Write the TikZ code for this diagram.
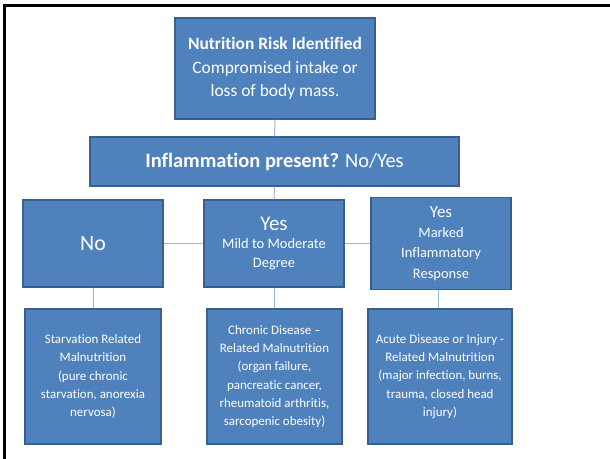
\documentclass[tikz,border=0pt]{standalone}
\usepackage{fontspec}
\setmainfont{Carlito}[Ligatures=NoCommon]
\definecolor{boxfill}{HTML}{4F81BD}
\definecolor{boxline}{HTML}{3A5F8C}
\definecolor{linkline}{HTML}{9BB7DA}
\begin{document}
\begin{tikzpicture}[x=1bp,y=-1bp,
  box/.style={draw=boxline, line width=1.2bp, fill=boxfill, text=white,
    align=center, inner sep=2bp, font=\fontsize{13}{18.3}\selectfont},
  link/.style={draw=linkline, line width=1bp}]
\useasboundingbox (0,0) rectangle (610,459);
% outer frame (open on the right and bottom)
\draw[line width=3bp] (4.5,459) -- (4.5,5.5) -- (610,5.5);

% boxes
\node[box, minimum width=200bp, minimum height=101bp,
  font=\fontsize{17.5}{23.5}\selectfont] (risk) at (275,68.5)
  {\textbf{Nutrition Risk Identified}\\Compromised intake or\\loss of body mass.};
\node[box, minimum width=369bp, minimum height=49bp,
  font=\fontsize{20.5}{24}\selectfont] (infl) at (274.5,161.5)
  {\textbf{Inflammation present?} No/Yes};
\node[box, minimum width=140bp, minimum height=87bp,
  font=\fontsize{22}{26}\selectfont] (no) at (93,243.5) {No};
\node[box, minimum width=140bp, minimum height=87bp,
  font=\fontsize{14.5}{18.5}\selectfont] (mild) at (274,243.5)
  {{\fontsize{21}{24}\selectfont Yes}\\Mild to Moderate\\Degree};
\node[box, minimum width=140bp, minimum height=92bp,
  font=\fontsize{14.5}{20.5}\selectfont] (marked) at (441,243.5)
  {{\fontsize{17}{20}\selectfont Yes}\\Marked\\Inflammatory\\Response};

\node[box, minimum width=136bp, minimum height=135bp] (starv) at (93,376.5)
  {Starvation Related\\Malnutrition\\(pure chronic\\starvation, anorexia\\nervosa)};
\node[box, minimum width=135bp, minimum height=135bp] (chronic) at (274.5,376.5)
  {Chronic Disease --\\Related Malnutrition\\(organ failure,\\pancreatic cancer,\\rheumatoid arthritis,\\sarcopenic obesity)};
\node[box, minimum width=144bp, minimum height=135bp] (acute) at (440,376.5)
  {Acute Disease or Injury -\\Related Malnutrition\\(major infection, burns,\\trauma, closed head\\injury)};

% connectors
\draw[link] (risk.south) -- (infl.north);
\draw[link] (infl.south) -- (mild.north);
\draw[link] (no.east) -- (mild.west);
\draw[link] (mild.east) -- (mild.east -| marked.west);
\draw[link] (no.south) -- (starv.north);
\draw[link] (mild.south) -- (mild.south |- chronic.north);
\draw[link] ([xshift=-3bp]marked.south) -- ([xshift=-3bp]marked.south |- acute.north);
\end{tikzpicture}
\end{document}
